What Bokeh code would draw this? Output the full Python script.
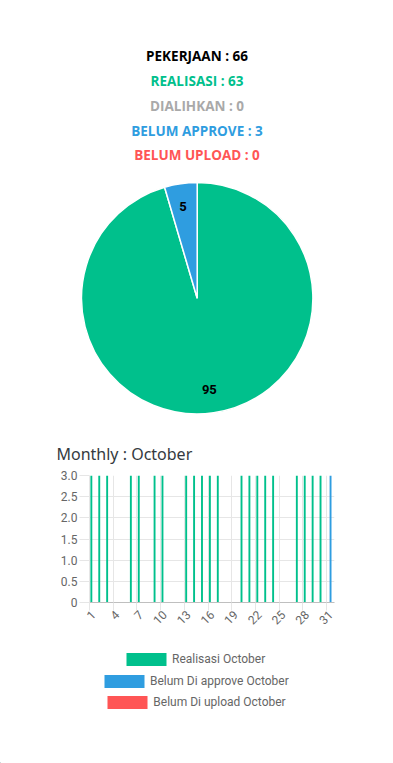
import math
from bokeh.plotting import figure
from bokeh.layouts import column
from bokeh.models import (Range1d, ColumnDataSource, FixedTicker, Legend, LegendItem)
from bokeh.transform import dodge
from bokeh.core.properties import value
from bokeh.embed import file_html
from bokeh.resources import INLINE

# ---------------- data ----------------
header_labels = ["PEKERJAAN", "REALISASI", "DIALIHKAN", "BELUM APPROVE", "BELUM UPLOAD"]
header_values = [66, 63, 0, 3, 0]
header_colors = ["#000000", "#00c08c", "#a9a9a9", "#2f9de0", "#ff5555"]

pie_names = ["Realisasi", "Dialihkan", "Belum Approve", "Belum Upload"]
pie_values = [63, 0, 3, 0]
pie_colors = ["#00c08c", "#a9a9a9", "#2f9de0", "#ff5555"]

days = list(range(1, 32))
realisasi = [3, 3, 3, 0, 0, 3, 3, 0, 3, 3, 0, 0, 3, 3, 3, 3, 3, 0, 0, 3,
             3, 3, 3, 3, 0, 0, 3, 3, 3, 3, 0]
belum_approve = [0] * 30 + [3]
belum_upload = [0] * 31
series_labels = ["Realisasi October", "Belum Di approve October", "Belum Di upload October"]
series_colors = ["#00c08c", "#2f9de0", "#ff5555"]
x_tick_days = [1, 4, 7, 10, 13, 16, 19, 22, 25, 28, 31]
y_ticks = [0, 0.5, 1, 1.5, 2, 2.5, 3]
y_tick_labels = ["0", "0.5", "1.0", "1.5", "2.0", "2.5", "3.0"]
chart_title = "Monthly : October"

# ---------------- figure 1: header + pie ----------------
W = 393
H1 = 427
p1 = figure(width=W, height=H1, x_range=Range1d(0, W), y_range=Range1d(0, H1),
            output_backend="svg", toolbar_location=None, min_border=0)
p1.frame_align = False
p1.axis.visible = False
p1.grid.visible = False
p1.outline_line_color = None

hx = [W / 2] * len(header_labels)
hy = [H1 - (55.7 + 24.8 * i) for i in range(len(header_labels))]
htxt = [f"{l} : {v}" for l, v in zip(header_labels, header_values)]
p1.text(x=hx, y=hy, text=htxt, text_color=header_colors, text_align="center",
        text_baseline="alphabetic", text_font=value("Open Sans"),
        text_font_style="bold", text_font_size="13.5px")

cx, cy, r = 196.7, H1 - 297.8, 115.7
total = sum(pie_values)
starts, ends, cols, mids, pcts = [], [], [], [], []
cum = 0
for v, c in zip(pie_values, pie_colors):
    if v > 0:
        a0 = math.pi / 2 - 2 * math.pi * cum / total
        a1 = math.pi / 2 - 2 * math.pi * (cum + v) / total
        starts.append(a0); ends.append(a1); cols.append(c)
        mids.append((a0 + a1) / 2)
        pcts.append(str(round(v / total * 100)))
    cum += v
src = ColumnDataSource(dict(start=starts, end=ends, color=cols))
p1.wedge(x=cx, y=cy, radius=r, start_angle="start", end_angle="end",
         direction="clock", fill_color="color", line_color="white",
         line_width=1.5, source=src)
lx = [cx + 0.8 * r * math.cos(m) - 1 for m in mids]
ly = [cy + 0.8 * r * math.sin(m) for m in mids]
p1.text(x=lx, y=ly, text=pcts, text_align="center", text_baseline="middle",
        text_font=value("Roboto"), text_font_style="bold", text_font_size="13px",
        text_color="#000000")

# ---------------- figure 2: monthly bars ----------------
H2 = 213
p2 = figure(width=W, height=H2, x_range=Range1d(0.5, 31.5), y_range=Range1d(0, 3),
            output_backend="svg", toolbar_location=None,
            min_border_left=89, min_border_right=59, min_border_top=48,
            min_border_bottom=38)
p2.frame_align = False
p2.outline_line_color = None
p2.title.text = chart_title
p2.title.text_font = "Noto Sans"
p2.title.text_font_style = "normal"
p2.title.text_font_size = "16px"
p2.title.text_color = "#343a40"
p2.title.offset = -33
p2.title.standoff = 21

bsrc = ColumnDataSource(dict(day=days, r=realisasi, a=belum_approve, u=belum_upload))
offs = [-0.2667, 0.0, 0.2667]
for key, off, col in zip(["r", "a", "u"], offs, series_colors):
    p2.vbar(x=dodge("day", off, range=p2.x_range), top=key, width=0.24,
            fill_color=col, line_color=None, source=bsrc)

grid_col = "#e6e6e6"
p2.xaxis.ticker = FixedTicker(ticks=x_tick_days, minor_ticks=[d - 0.5 for d in x_tick_days])
p2.xaxis.major_tick_line_color = None
p2.xaxis.major_tick_out = 0
p2.xaxis.minor_tick_line_color = grid_col
p2.xaxis.minor_tick_out = 8
p2.xaxis.minor_tick_in = 0
p2.xaxis.major_label_orientation = math.pi / 4
p2.xaxis.major_label_standoff = 2
p2.xaxis.axis_line_color = "#bfbfbf"

p2.yaxis.ticker = FixedTicker(ticks=y_ticks)
p2.yaxis.major_label_overrides = {t: l for t, l in zip(y_ticks, y_tick_labels)}
p2.yaxis.major_tick_out = 10
p2.yaxis.major_tick_in = 0
p2.yaxis.major_tick_line_color = grid_col
p2.yaxis.minor_tick_line_color = None
p2.yaxis.axis_line_color = grid_col
p2.yaxis.major_label_standoff = 2

for ax in (p2.xaxis, p2.yaxis):
    ax.major_label_text_font = "Roboto"
    ax.major_label_text_font_size = "12px"
    ax.major_label_text_color = "#666666"

p2.xgrid.ticker = FixedTicker(ticks=[d - 0.5 for d in x_tick_days])
p2.xgrid.grid_line_color = grid_col
p2.ygrid.ticker = FixedTicker(ticks=y_ticks)
p2.ygrid.grid_line_color = grid_col

# ---------------- figure 3: legend of the monthly series ----------------
H3 = 763 - H1 - H2
p3 = figure(width=W, height=H3, x_range=Range1d(0, W), y_range=Range1d(0, H3),
            output_backend="svg", toolbar_location=None, min_border=0)
p3.frame_align = False
p3.axis.visible = False
p3.grid.visible = False
p3.outline_line_color = None

leg_locs = [(121, 96.3), (99, 74.3), (102.3, 52.6)]
for lab, col, loc in zip(series_labels, series_colors, leg_locs):
    # legend key renderer: a single bar placed outside the visible range
    rend = p3.vbar(x=[-1000], top=[1], width=1, fill_color=col, line_color=None)
    lg = Legend(items=[LegendItem(label=lab, renderers=[rend])], location=loc,
                glyph_width=50, glyph_height=16, label_height=16, label_standoff=1,
                padding=0, margin=0, spacing=0, border_line_color=None,
                background_fill_alpha=0, label_text_font="Roboto",
                label_text_font_size="12px", label_text_color="#666666")
    p3.add_layout(lg, "center")

layout = column(p1, p2, p3, spacing=0)
open("out.html", "w").write(file_html(layout, INLINE))
